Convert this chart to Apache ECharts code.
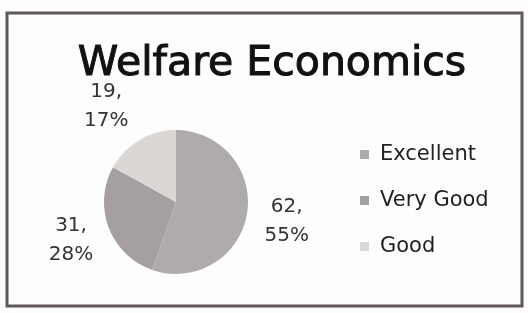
<!DOCTYPE html>
<html><head><meta charset="utf-8">
<script src="https://cdn.jsdelivr.net/npm/echarts@6/dist/echarts.min.js"></script>
<style>html,body{margin:0;padding:0;background:#fff}#c{width:528px;height:313px}</style>
</head><body><div id="c"></div>
<script>
const categories = ['Excellent', 'Very Good', 'Good'];
const values = [62, 31, 19];
const percents = ['55%', '28%', '17%'];

function buildOption() {
  const colors = ['#afabac', '#a59fa1', '#dbd7d5'];
  // fine-tuning shifts of the data labels relative to ECharts' outside anchor
  const shift = [[15, 4], [-14, 5], [-18, -16]];
  const font = 'DejaVu Sans';
  return {
    backgroundColor: '#fdfdfd',
    animation: false,
    title: {
      text: 'Welfare Economics', left: 267, top: 39, textAlign: 'center',
      textStyle: {fontFamily: font, fontSize: 41, fontWeight: 'normal', color: '#111',
                  textBorderColor: '#111', textBorderWidth: 1}
    },
    legend: {
      orient: 'vertical', left: 355, top: 139, itemWidth: 9, itemHeight: 9, itemGap: 25,
      icon: 'rect',
      textStyle: {fontFamily: font, fontSize: 21, color: '#222', padding: [0, 0, 0, 6]},
      data: categories
    },
    graphic: [{
      type: 'rect', shape: {x: 7, y: 13, width: 515, height: 293},
      style: {fill: 'none', stroke: '#5f5759', lineWidth: 3}, silent: true
    }],
    series: [{
      type: 'pie', center: [176, 202], radius: 72, startAngle: 90, clockwise: true,
      avoidLabelOverlap: false,
      label: {
        show: true, position: 'outside', alignTo: 'none',
        fontFamily: font, fontSize: 20, color: '#333', lineHeight: 29,
        formatter: p => p.value + ',\n' + percents[p.dataIndex]
      },
      labelLine: {show: false, length: 20, length2: 0},
      labelLayout: p => ({align: 'center', dx: shift[p.dataIndex][0], dy: shift[p.dataIndex][1]}),
      itemStyle: {borderWidth: 0},
      data: categories.map((c, i) => ({name: c, value: values[i], itemStyle: {color: colors[i]}}))
    }]
  };
}

const chart = echarts.init(document.getElementById('c'), null, {renderer: 'canvas'});
chart.setOption(buildOption());
</script></body></html>
